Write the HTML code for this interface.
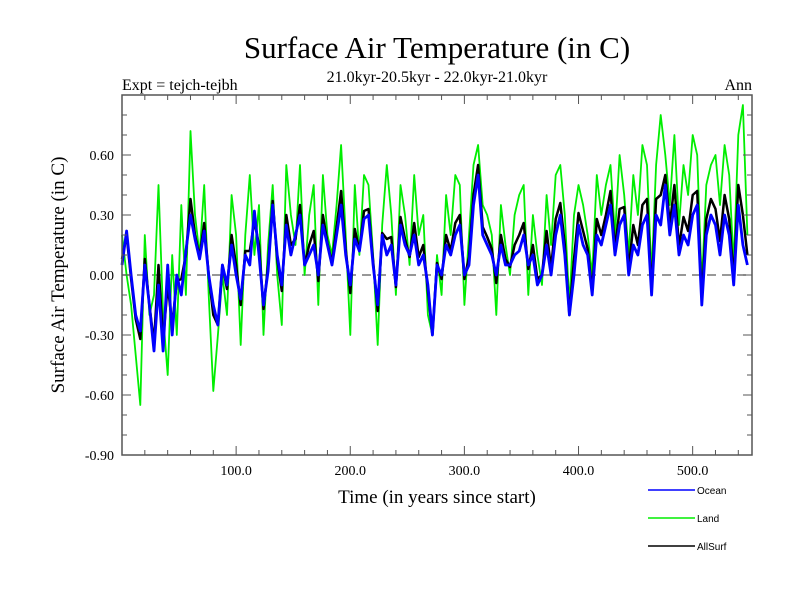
<!DOCTYPE html>
<html><head><meta charset="utf-8"><style>
body{margin:0;background:#fff;}
svg{display:block;font-family:"Liberation Serif",serif;}
</style></head><body>
<svg id="chart" width="800" height="600">
<text x="437" y="58" font-size="31" text-anchor="middle">Surface Air Temperature (in C)</text>
<text x="122" y="90" font-size="16">Expt = tejch-tejbh</text>
<text x="437" y="82" font-size="16" text-anchor="middle">21.0kyr-20.5kyr - 22.0kyr-21.0kyr</text>
<text x="752" y="90" font-size="16" text-anchor="end">Ann</text>
<text transform="translate(64,275) rotate(-90)" font-size="19" text-anchor="middle">Surface Air Temperature (in C)</text>
<text x="437" y="503" font-size="19" text-anchor="middle">Time (in years since start)</text>
<g id="plot"></g>
<g id="legend" font-family="Liberation Sans,sans-serif" font-size="10">
<line x1="648" y1="490" x2="695" y2="490" stroke="#0000ff" stroke-width="1.5"/>
<text x="697" y="494">Ocean</text>
<line x1="648" y1="518" x2="695" y2="518" stroke="#00ee00" stroke-width="1.5"/>
<text x="697" y="522">Land</text>
<line x1="648" y1="546" x2="695" y2="546" stroke="#000" stroke-width="1.5"/>
<text x="697" y="550">AllSurf</text>
</g>
</svg>
<script>
const yTickLabels=["-0.90","-0.60","-0.30","0.00","0.30","0.60"];
const yTickValues=[-0.9,-0.6,-0.3,0,0.3,0.6];
const xTickValues=[100,200,300,400,500];
const xTickLabels=["100.0","200.0","300.0","400.0","500.0"];
const oceanStep=4, landStep=4, allStep=4;
const ocean=[0.05,0.22,0.0,-0.2,-0.28,0.05,-0.15,-0.38,-0.05,-0.38,0.05,-0.3,0.0,
-0.1,0.12,0.3,0.18,0.08,0.22,0.0,-0.15,-0.25,0.05,-0.05,0.15,0.0,
-0.12,0.1,0.05,0.32,0.1,-0.15,0.02,0.35,0.1,-0.05,0.25,0.1,0.2,
0.3,0.05,0.1,0.15,0.0,0.25,0.15,0.05,0.2,0.35,0.1,-0.05,0.18,
0.12,0.28,0.3,0.05,-0.15,0.2,0.1,0.15,-0.05,0.25,0.15,0.1,0.2,
0.05,0.1,-0.05,-0.3,0.05,0.0,0.15,0.1,0.2,0.25,0.0,0.05,0.35,
0.5,0.2,0.15,0.1,0.0,0.15,0.05,0.05,0.1,0.12,0.2,0.05,0.1,
-0.05,0.0,0.15,0.0,0.2,0.3,0.1,-0.2,0.0,0.25,0.15,0.1,-0.1,
0.2,0.15,0.25,0.35,0.1,0.25,0.3,0.0,0.15,0.1,0.25,0.3,-0.1,
0.3,0.25,0.45,0.2,0.35,0.1,0.2,0.15,0.3,0.35,-0.15,0.2,0.3,
0.25,0.1,0.3,0.2,-0.05,0.35,0.15,0.05];
const land=[0.2,0.0,-0.15,-0.4,-0.65,0.2,-0.2,-0.1,0.45,-0.2,-0.5,0.1,-0.3,
0.35,-0.1,0.72,0.3,0.1,0.45,-0.1,-0.58,-0.3,0.0,-0.2,0.4,0.2,
-0.35,0.2,0.5,0.1,0.35,-0.3,0.15,0.45,0.0,-0.25,0.55,0.3,0.15,
0.55,0.0,0.3,0.45,-0.15,0.5,0.2,0.1,0.35,0.65,0.2,-0.3,0.45,
0.1,0.5,0.45,0.1,-0.35,0.25,0.55,0.3,-0.1,0.45,0.3,0.05,0.5,
0.2,0.3,-0.2,-0.3,0.1,-0.1,0.4,0.2,0.5,0.45,-0.15,0.2,0.55,
0.65,0.35,0.3,0.2,-0.2,0.35,0.15,0.0,0.3,0.4,0.45,-0.1,0.3,
0.1,-0.05,0.4,0.15,0.5,0.55,0.3,-0.15,0.3,0.45,0.35,0.2,0.0,
0.5,0.3,0.45,0.55,0.2,0.6,0.4,0.1,0.5,0.3,0.65,0.55,0.0,
0.55,0.8,0.6,0.35,0.7,0.25,0.55,0.4,0.7,0.6,-0.05,0.45,0.55,
0.6,0.35,0.65,0.5,0.05,0.7,0.85,0.2];
const allSurf=[0.08,0.2,-0.02,-0.22,-0.32,0.08,-0.15,-0.34,0.05,-0.33,-0.05,-0.25,-0.03,
-0.02,0.1,0.38,0.2,0.09,0.26,0.0,-0.2,-0.25,0.05,-0.07,0.2,0.05,
-0.15,0.12,0.12,0.27,0.15,-0.17,0.05,0.37,0.08,-0.08,0.3,0.15,0.18,
0.35,0.05,0.15,0.22,-0.03,0.3,0.16,0.06,0.24,0.42,0.13,-0.09,0.23,
0.12,0.32,0.33,0.07,-0.18,0.21,0.18,0.19,-0.06,0.29,0.18,0.09,0.26,
0.09,0.15,-0.08,-0.3,0.06,-0.02,0.2,0.12,0.26,0.3,-0.02,0.09,0.4,
0.55,0.24,0.19,0.13,-0.04,0.2,0.08,0.04,0.15,0.2,0.26,0.03,0.15,
-0.02,0.0,0.22,0.03,0.28,0.36,0.15,-0.2,0.08,0.31,0.22,0.13,-0.08,
0.28,0.2,0.3,0.42,0.13,0.33,0.34,0.03,0.25,0.15,0.35,0.38,-0.08,
0.38,0.4,0.5,0.25,0.45,0.14,0.29,0.22,0.4,0.42,-0.12,0.28,0.38,
0.33,0.17,0.4,0.28,-0.02,0.45,0.3,0.1];

const L=122,R=752,T=95,B=455,X0=0,X1=552,Y0=-0.9,Y1=0.9;
const sx=v=>L+(v-X0)/(X1-X0)*(R-L);
const sy=v=>B-(v-Y0)/(Y1-Y0)*(B-T);
const NS="http://www.w3.org/2000/svg";
const g=document.getElementById('plot');
function mk(tag,attrs){const e=document.createElementNS(NS,tag);for(const k in attrs)e.setAttribute(k,attrs[k]);g.appendChild(e);return e;}

const zl=mk('line',{x1:L,x2:R,y1:sy(0),y2:sy(0),stroke:'#777','stroke-width':1.5,'stroke-dasharray':'9,6'});



function series(arr,step,color,w,name){
  const pts=arr.map((v,i)=>sx(i*step).toFixed(1)+','+sy(v).toFixed(1)).join(' ');
  const p=mk('polyline',{points:pts,fill:'none',stroke:color,'stroke-width':w,'stroke-linejoin':'round'});
  
  
}
series(land,landStep,'#00ee00',1.8,'land-series');
series(allSurf,allStep,'#000000',2.5,'allsurf-series');
series(ocean,oceanStep,'#0000ff',2.8,'ocean-series');

const fr=mk('rect',{x:L,y:T,width:R-L,height:B-T,fill:'none',stroke:'#555','stroke-width':1.5});



for(let v=20;v<X1;v+=20){
  const big=v%100===0,len=big?9:5;
  mk('line',{x1:sx(v),x2:sx(v),y1:B,y2:B-len,stroke:'#555'});
  mk('line',{x1:sx(v),x2:sx(v),y1:T,y2:T+len,stroke:'#555'});
}
for(let k=-8;k<=8;k++){
  const v=k/10,big=k%3===0,len=big?9:5;
  mk('line',{x1:L,x2:L+len,y1:sy(v),y2:sy(v),stroke:'#555'});
  mk('line',{x1:R,x2:R-len,y1:sy(v),y2:sy(v),stroke:'#555'});
}
yTickValues.forEach((v,i)=>{
  const t=mk('text',{x:L-8,y:sy(v)+5,'font-size':14,'text-anchor':'end'});
  t.textContent=yTickLabels[i];
  
  
});
xTickValues.forEach((v,i)=>{
  const t=mk('text',{x:sx(v),y:B+20,'font-size':14,'text-anchor':'middle'});
  t.textContent=xTickLabels[i];
  
  
});
</script>
</body></html>
